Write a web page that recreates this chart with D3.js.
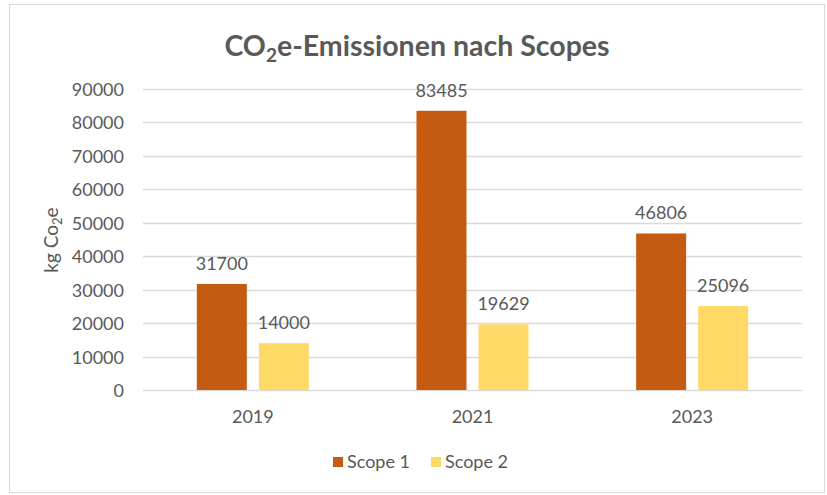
<!DOCTYPE html>
<html>
<head>
<meta charset="utf-8">
<script src="https://cdn.jsdelivr.net/npm/d3@7"></script>
<style>
    body { margin: 0; background: #fff; }
    text { font-family: Lato, "Open Sans", sans-serif; fill: #595959; }
</style>
</head>
<body>
<div id="chart"></div>
<script>
// data
var years = ["2019", "2021", "2023"];
var seriesNames = ["Scope 1", "Scope 2"];
var scope1 = [31700, 83485, 46806];
var scope2 = [14000, 19629, 25096];
var yTicks = [0, 10000, 20000, 30000, 40000, 50000, 60000, 70000, 80000, 90000];
var colors = ["#C55A11", "#FFD966"];

var svgWidth = 827;
var svgHeight = 495;
var margin = { top: 89, right: 25, bottom: 105, left: 143 };
var chart_width = svgWidth - margin.left - margin.right;
var chart_height = svgHeight - margin.top - margin.bottom;

var svg = d3.select("#chart")
    .append("svg")
    .attr("width", svgWidth)
    .attr("height", svgHeight);

// outer border
svg.append("rect")
    .attr("x", 9.5)
    .attr("y", 4.5)
    .attr("width", 815)
    .attr("height", 488)
    .attr("fill", "#fff")
    .attr("stroke", "#D9D9D9")
    .attr("stroke-width", 1);

var chartGroup = svg.append("g")
    .attr("transform", `translate(${margin.left}, ${margin.top})`);

// scales
var x0 = d3.scaleBand()
    .domain(years)
    .range([0, chart_width])
    .paddingInner(0.49)
    .paddingOuter(0.245);

var x1 = d3.scaleBand()
    .domain(seriesNames)
    .range([0, x0.bandwidth()])
    .paddingInner(0.194);

var yScale = d3.scaleLinear()
    .domain([0, 90000])
    .range([chart_height, 0]);

// gridlines
chartGroup.selectAll(".grid")
    .data(yTicks)
    .enter()
    .append("line")
    .attr("x1", 0)
    .attr("x2", chart_width)
    .attr("y1", d => Math.round(yScale(d)) + 0.5)
    .attr("y2", d => Math.round(yScale(d)) + 0.5)
    .attr("stroke", "#D9D9D9")
    .attr("stroke-width", 1.3);

// y axis labels
var leftAxis = d3.axisLeft(yScale).tickValues(yTicks).tickSize(0).tickPadding(19).tickFormat(d => d);
var yAxisG = chartGroup.append("g").call(leftAxis);
yAxisG.select(".domain").remove();
yAxisG.selectAll("text")
    .style("font-size", "18px")
    .attr("fill", "#595959")
    .attr("dy", "0.36em");

// x axis labels
var bottomAxis = d3.axisBottom(x0).tickSize(0).tickPadding(20);
var xAxisG = chartGroup.append("g")
    .attr("transform", `translate(0, ${chart_height})`)
    .call(bottomAxis);
xAxisG.select(".domain").remove();
xAxisG.selectAll("text")
    .style("font-size", "18px")
    .attr("fill", "#595959");

// bars
var rows = years.map(function(y, i) {
    return { year: y, values: [
        { name: seriesNames[0], value: scope1[i] },
        { name: seriesNames[1], value: scope2[i] }
    ] };
});

var groups = chartGroup.selectAll(".yearGroup")
    .data(rows)
    .enter()
    .append("g")
    .attr("transform", d => `translate(${x0(d.year)}, 0)`);

groups.selectAll("rect")
    .data(d => d.values)
    .enter()
    .append("rect")
    .attr("x", d => x1(d.name))
    .attr("y", d => yScale(d.value))
    .attr("width", x1.bandwidth())
    .attr("height", d => chart_height - yScale(d.value))
    .attr("fill", (d, i) => colors[i]);

groups.selectAll(".valueLabel")
    .data(d => d.values)
    .enter()
    .append("text")
    .attr("x", d => x1(d.name) + x1.bandwidth() / 2)
    .attr("y", d => yScale(d.value) - 14)
    .attr("text-anchor", "middle")
    .style("font-size", "18px")
    .text(d => d.value);

// title
var title = svg.append("text")
    .attr("x", 417)
    .attr("y", 56)
    .attr("text-anchor", "middle")
    .style("font-size", "28.5px")
    .style("font-weight", "bold");
title.append("tspan").text("CO");
title.append("tspan").attr("dy", 6).style("font-size", "19px").text("2");
title.append("tspan").attr("dy", -6).text("e-Emissionen nach Scopes");

// y axis title
var yTitle = svg.append("text")
    .attr("transform", "translate(58, 240) rotate(-90)")
    .attr("text-anchor", "middle")
    .style("font-size", "19px");
yTitle.append("tspan").text("kg Co");
yTitle.append("tspan").attr("dy", 4).style("font-size", "13px").text("2");
yTitle.append("tspan").attr("dy", -4).text("e");

// legend
var legendX = [333, 431];
var legend = svg.selectAll(".legend")
    .data(seriesNames)
    .enter()
    .append("g")
    .attr("transform", (d, i) => `translate(${legendX[i]}, 457)`);

legend.append("rect")
    .attr("width", 10)
    .attr("height", 10)
    .attr("fill", (d, i) => colors[i]);

legend.append("text")
    .attr("x", 14)
    .attr("y", 5)
    .attr("dy", "0.36em")
    .style("font-size", "18px")
    .text(d => d);
</script>
</body>
</html>
